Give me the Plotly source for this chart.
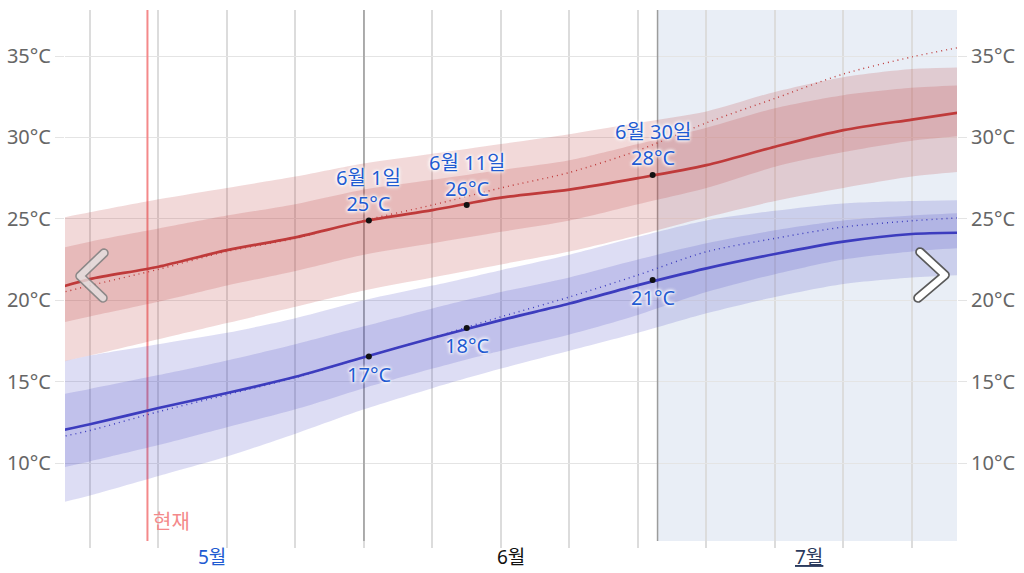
import numpy as np
import plotly.graph_objects as go

# ---------------- data ----------------
dates = ['2023-05-01', '2023-05-04', '2023-05-11', '2023-05-18', '2023-05-25', '2023-06-01',
         '2023-06-08', '2023-06-15', '2023-06-22', '2023-06-29', '2023-07-06', '2023-07-13',
         '2023-07-20', '2023-07-27', '2023-08-01']
high_avg = [20.8, 21.3, 22.06, 23.08, 23.86, 24.85, 25.54, 26.3, 26.8, 27.5, 28.3, 29.43, 30.45, 31.1, 31.55]
high_p25 = [18.6, 19.0, 19.9, 20.9, 21.8, 22.8, 23.5, 24.2, 24.9, 25.9, 26.9, 28.2, 29.1, 29.8, 30.1]
high_p75 = [23.2, 23.6, 24.4, 25.2, 25.9, 26.8, 27.4, 28.0, 28.6, 29.6, 30.6, 31.8, 32.6, 33.05, 33.2]
high_p10 = [16.2, 16.6, 17.6, 18.6, 19.6, 20.6, 21.4, 22.2, 23.0, 24.0, 25.1, 26.1, 26.9, 27.6, 27.9]
high_p90 = [25.05, 25.4, 26.2, 26.9, 27.6, 28.4, 29.0, 29.6, 30.2, 30.9, 31.6, 32.8, 33.7, 34.2, 34.3]
high_dot = [20.45, 20.9, 21.9, 23.0, 23.8, 24.9, 25.85, 26.9, 27.85, 29.2, 30.9, 32.4, 33.9, 34.95, 35.55]

low_avg = [12.0, 12.38, 13.38, 14.3, 15.3, 16.5, 17.68, 18.78, 19.8, 20.93, 21.96, 22.84, 23.6, 24.07, 24.15]
low_p25 = [9.7, 10.1, 11.1, 12.2, 13.3, 14.6, 15.8, 16.9, 17.9, 19.1, 20.5, 21.6, 22.5, 23.0, 23.2]
low_p75 = [14.2, 14.55, 15.4, 16.3, 17.3, 18.4, 19.5, 20.5, 21.4, 22.5, 23.5, 24.3, 24.9, 25.2, 25.35]
low_p10 = [7.55, 8.0, 9.2, 10.4, 11.8, 13.3, 14.6, 15.8, 16.9, 18.0, 19.2, 20.2, 21.0, 21.4, 21.55]
low_p90 = [16.2, 16.6, 17.3, 18.0, 18.9, 20.0, 20.9, 21.85, 22.8, 23.9, 24.9, 25.5, 25.95, 26.1, 26.15]
low_dot = [11.6, 12.0, 13.15, 14.2, 15.25, 16.5, 17.7, 18.98, 20.2, 21.55, 22.98, 23.8, 24.5, 24.88, 25.07]

marker_dates = ['2023-06-01 12:00', '2023-06-11 12:00', '2023-06-30 12:00']
marker_day_labels = ['6월 1일', '6월 11일', '6월 30일']
marker_high = [24.9, 25.85, 27.7]
marker_low = [16.55, 18.3, 21.25]

week_grid = ['2023-05-04', '2023-05-11', '2023-05-18', '2023-05-25', '2023-06-01', '2023-06-08',
             '2023-06-15', '2023-06-22', '2023-06-29', '2023-07-06', '2023-07-13', '2023-07-20',
             '2023-07-27']
month_starts = ['2023-06-01', '2023-07-01']
month_label_dates = ['2023-05-16 12:00', '2023-06-16', '2023-07-16 12:00']
month_labels = ['5월', '6월', '7월']
y_ticks = [10, 15, 20, 25, 30, 35]
y_tick_text = [f'{v}°C' for v in y_ticks]
now_date = '2023-05-09 21:00'
now_label = '현재'
x_range = ['2023-05-01 10:48', '2023-07-31 14:24']
y_range = [4.78, 37.83]
Y_FLOOR = 5.21   # lower end of the highlighted band / marker lines

FONT = 'Noto Sans, Noto Sans CJK KR, sans-serif'
RED = '#bf3a3a'
BLUE = '#3c3cbe'
RED_BAND = 'rgba(192,64,64,0.2)'
BLUE_BAND = 'rgba(64,64,192,0.18)'
LABEL_BLUE = '#1f5bd1'
SMOOTH = 0.8

fig = go.Figure()


def band(lo, hi, color):
    fig.add_trace(go.Scatter(x=dates, y=lo, mode='lines',
                             line=dict(width=0, color=color, shape='spline', smoothing=SMOOTH),
                             hoverinfo='skip', showlegend=False))
    fig.add_trace(go.Scatter(x=dates, y=hi, mode='lines',
                             line=dict(width=0, color=color, shape='spline', smoothing=SMOOTH),
                             fill='tonexty', fillcolor=color, hoverinfo='skip', showlegend=False))


band(high_p10, high_p90, RED_BAND)
band(high_p25, high_p75, RED_BAND)
band(low_p10, low_p90, BLUE_BAND)
band(low_p25, low_p75, BLUE_BAND)

fig.add_trace(go.Scatter(x=dates, y=high_dot, mode='lines',
                         line=dict(color=RED, width=1.4, dash='1px,4px', shape='spline', smoothing=SMOOTH),
                         showlegend=False, hoverinfo='skip'))
fig.add_trace(go.Scatter(x=dates, y=low_dot, mode='lines',
                         line=dict(color=BLUE, width=1.4, dash='1px,4px', shape='spline', smoothing=SMOOTH),
                         showlegend=False, hoverinfo='skip'))
fig.add_trace(go.Scatter(x=dates, y=high_avg, mode='lines',
                         line=dict(color=RED, width=2.7, shape='spline', smoothing=SMOOTH),
                         showlegend=False))
fig.add_trace(go.Scatter(x=dates, y=low_avg, mode='lines',
                         line=dict(color=BLUE, width=2.7, shape='spline', smoothing=SMOOTH),
                         showlegend=False))
fig.add_trace(go.Scatter(x=marker_dates + marker_dates, y=marker_high + marker_low, mode='markers',
                         marker=dict(color='#111', size=6), showlegend=False))
# invisible trace on right axis so it is drawn
fig.add_trace(go.Scatter(x=[dates[0]], y=[20], yaxis='y2', mode='markers',
                         marker=dict(opacity=0), showlegend=False, hoverinfo='skip'))

# ---------------- layout ----------------
PL, PR, PT, PB = 65, 957, 10, 548
W, H = 1024, 573


def px2paper(px, py):
    return (px - PL) / (PR - PL), (PB - py) / (PB - PT)


def chevron_path(pts, h):
    P = np.array(pts, float)
    unit = lambda v: v / np.hypot(*v)
    d1 = unit(P[1] - P[0]); d2 = unit(P[2] - P[1])
    n1 = np.array([-d1[1], d1[0]]); n2 = np.array([-d2[1], d2[0]])
    L1 = np.hypot(*(P[1] - P[0]))

    def inter(a, da, b, db):
        M = np.array([da, -db]).T
        t, s = np.linalg.solve(M, b - a)
        return a + t * da, t

    def side(s):
        a = P[0] + s * n1 * h
        b, t = inter(a, d1, P[1] + s * n2 * h, d2)
        if t < L1:  # inner side
            return [a, b, P[2] + s * n2 * h]
        a1 = np.arctan2(*(s * n1)[::-1]); a2 = np.arctan2(*(s * n2)[::-1])
        da = (a2 - a1 + np.pi) % (2 * np.pi) - np.pi
        arc = [P[1] + h * np.array([np.cos(a1 + da * k / 8), np.sin(a1 + da * k / 8)]) for k in range(9)]
        return [a] + arc + [P[2] + s * n2 * h]

    pts_out = side(1)
    th = np.linspace(0, np.pi, 9)
    pts_out += [P[2] + h * (np.cos(t) * n2 + np.sin(t) * d2) for t in th]
    pts_out += side(-1)[::-1]
    pts_out += [P[0] + h * (-np.cos(t) * n1 - np.sin(t) * d1) for t in th]
    coords = [px2paper(x, y) for x, y in pts_out]
    return 'M ' + ' L '.join(f'{x:.5f},{y:.5f}' for x, y in coords) + ' Z'


shapes = [
    dict(type='rect', xref='x', yref='y', x0=month_starts[1], x1=x_range[1], y0=Y_FLOOR, y1=y_range[1],
         fillcolor='#e9eef6', line=dict(width=0), layer='below'),
]
for m in month_starts:
    shapes.append(dict(type='line', xref='x', yref='y', x0=m, x1=m, y0=Y_FLOOR, y1=y_range[1],
                       line=dict(color='#9c9c9c', width=1.5), layer='between'))
shapes.append(dict(type='line', xref='x', yref='y', x0=now_date, x1=now_date, y0=Y_FLOOR, y1=y_range[1],
                   line=dict(color='#f4898a', width=2), layer='between'))
shapes.append(dict(type='path', xref='paper', yref='paper',
                   path=chevron_path([(104, 253), (80, 276), (103, 298)], 4),
                   fillcolor='rgba(228,224,224,0.8)', line=dict(color='rgba(125,125,125,0.85)', width=1.5),
                   layer='above'))
shapes.append(dict(type='path', xref='paper', yref='paper',
                   path=chevron_path([(920, 252), (945, 275), (918, 298)], 4),
                   fillcolor='#ffffff', line=dict(color='#5a5a5a', width=1.7), layer='above'))

halo = '0 0 2px #fff, 0 0 3px #fff, 0 0 4px #fff, 0 0 4px #fff'
annotations = []
for d, lab, hv, lv in zip(marker_dates, marker_day_labels, marker_high, marker_low):
    annotations.append(dict(x=d, y=hv, text=f'{lab}<br>{round(hv)}°C', showarrow=False, yshift=30,
                            yanchor='middle', borderpad=0,
                            font=dict(family=FONT, size=20, color=LABEL_BLUE, shadow=halo)))
    annotations.append(dict(x=d, y=lv, text=f'{round(lv)}°C', showarrow=False, yshift=-18, yanchor='middle',
                            borderpad=0,
                            font=dict(family=FONT, size=20, color=LABEL_BLUE, shadow=halo)))

month_colors = ['#1f5bd1', '#111111', '#2b3a5c']
for d, lab, c in zip(month_label_dates, month_labels, month_colors):
    f = dict(family=FONT, size=19, color=c)
    if lab == '7월':
        f['lineposition'] = 'under'
    annotations.append(dict(x=d, y=px2paper(0, 557)[1], xref='x', yref='paper', text=lab,
                            showarrow=False, yanchor='middle', font=f))
annotations.append(dict(x=now_date, y=px2paper(0, 521)[1], xref='x', yref='paper', text=now_label,
                        showarrow=False, xanchor='left', xshift=4, yanchor='middle',
                        font=dict(family=FONT, size=20, color='#f4898a')))

yaxis_common = dict(range=y_range, tickmode='array', tickvals=y_ticks, ticktext=y_tick_text,
                    ticks='outside', ticklen=9, tickwidth=1, tickcolor='#e4e4e4',
                    tickfont=dict(family=FONT, size=20, color='#666666'),
                    zeroline=False, showline=False, fixedrange=True, automargin=False)

fig.update_layout(
    width=W, height=H, autosize=False,
    margin=dict(l=PL, r=W - PR, t=PT, b=H - PB, autoexpand=False),
    paper_bgcolor='white', plot_bgcolor='white',
    showlegend=False,
    xaxis=dict(type='date', range=x_range, tickmode='array', tickvals=week_grid,
               showticklabels=False, ticks='',
               showgrid=True, gridcolor='#dcdcdc', gridwidth=1.5, zeroline=False, showline=False,
               automargin=False),
    yaxis=dict(**yaxis_common, showgrid=True, gridcolor='#e4e4e4', gridwidth=1, side='left'),
    yaxis2=dict(**yaxis_common, showgrid=False, overlaying='y', side='right'),
    shapes=shapes,
    annotations=annotations,
    font=dict(family=FONT),
)

fig.write_html('out.html')
